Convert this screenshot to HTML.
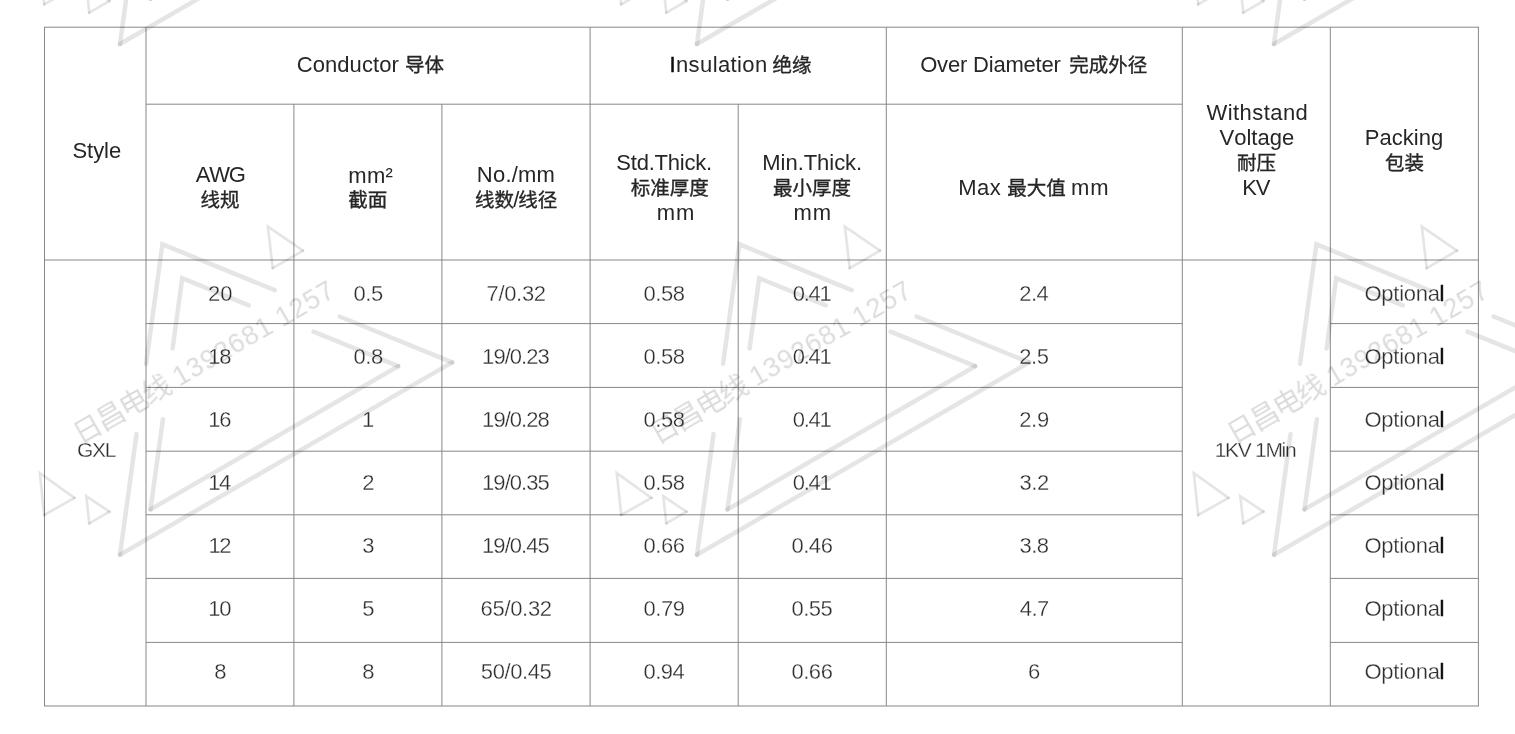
<!DOCTYPE html>
<html lang="en">
<head>
<meta charset="utf-8">
<title>GXL wire specification table</title>
<style>
html,body{margin:0;padding:0;background:#fff}
body{width:1515px;height:734px;position:relative;overflow:hidden;font-family:"Liberation Sans",sans-serif;font-size:22.0px;line-height:25px;font-kerning:none;font-variant-ligatures:none}
svg.grid,svg.wm{position:absolute;left:0;top:0;pointer-events:none}
main{position:absolute;left:0;top:0;width:1515px;height:734px;will-change:transform}
.s{position:absolute;white-space:pre;display:block;height:25px}
.h{color:#262626;fill:#262626}
.b{color:#2e2e2e;fill:#2e2e2e;-webkit-text-stroke:.3px #fff}
.k{color:#0d0d0d;-webkit-text-stroke:.5px #0d0d0d}
.c{font-family:"Liberation Sans","Noto Sans CJK SC",sans-serif;font-size:19.5px;-webkit-text-stroke:.35px #262626}
</style>
</head>
<body>
<svg class="grid" width="1515" height="734" viewBox="0 0 1515 734"><path fill="none" stroke="#85878b" stroke-width="1" d="M44.0 27.2H1478.9M146.0 104.2H1182.3M44.5 260.0H1478.4M146.0 323.6H1182.3M1330.3 323.6H1478.4M146.0 387.4H1182.3M1330.3 387.4H1478.4M146.0 451.2H1182.3M1330.3 451.2H1478.4M146.0 514.8H1182.3M1330.3 514.8H1478.4M146.0 578.4H1182.3M1330.3 578.4H1478.4M146.0 642.4H1182.3M1330.3 642.4H1478.4M44.0 706.0H1478.9M44.5 27.2V706.0M146.0 27.2V706.0M590.1 27.2V706.0M886.3 27.2V706.0M1182.3 27.2V706.0M1330.3 27.2V706.0M1478.4 27.2V706.0M293.9 104.2V706.0M441.9 104.2V706.0M738.2 104.2V706.0"/></svg>
<main>
<div class="cell h"><span class="s" style="left:72.50px;top:137.60px;letter-spacing:-0.06px">Style</span></div>
<div class="cell h"><span class="s" style="left:296.68px;top:52.00px;letter-spacing:0.08px">Conductor</span><span class="s c" style="left:404.95px;top:53.05px">导体</span></div>
<div class="cell h"><span class="s" style="left:669.47px;top:52.00px;letter-spacing:0.39px"><span class="k">I</span>nsulation</span><span class="s c" style="left:772.40px;top:53.05px">绝缘</span></div>
<div class="cell h"><span class="s" style="left:920.16px;top:52.00px;letter-spacing:-0.19px">Over Diameter</span><span class="s c" style="left:1069.35px;top:53.05px">完成外径</span></div>
<div class="cell h"><span class="s" style="left:1206.50px;top:99.70px;letter-spacing:0.44px">Withstand</span><span class="s" style="left:1219.50px;top:124.90px">Voltage</span><span class="s c" style="left:1237.05px;top:150.95px">耐压</span><span class="s" style="left:1242.27px;top:174.80px;letter-spacing:-1.30px">KV</span></div>
<div class="cell h"><span class="s" style="left:1364.70px;top:124.90px;letter-spacing:0.03px">Packing</span><span class="s c" style="left:1385.05px;top:150.95px">包装</span></div>
<div class="cell h"><span class="s" style="left:195.87px;top:162.40px;letter-spacing:-1.30px">AWG</span><span class="s c" style="left:200.55px;top:188.45px">线规</span></div>
<div class="cell h"><span class="s" style="left:348.34px;top:162.50px;letter-spacing:0.25px">mm²</span><span class="s c" style="left:348.15px;top:188.45px">截面</span></div>
<div class="cell h"><span class="s" style="left:476.80px;top:162.30px;letter-spacing:0.23px">No./mm</span><span class="s c" style="left:474.90px;top:188.45px">线数</span><span class="s" style="left:513.24px;top:187.40px">/</span><span class="s c" style="left:518.20px;top:188.45px">线径</span></div>
<div class="cell h"><span class="s" style="left:616.30px;top:150.00px;letter-spacing:-0.21px">Std.Thick.</span><span class="s c" style="left:630.75px;top:176.25px">标准厚度</span><span class="s" style="left:656.72px;top:199.70px;letter-spacing:0.90px">mm</span></div>
<div class="cell h"><span class="s" style="left:762.30px;top:150.00px;letter-spacing:-0.04px">Min.Thick.</span><span class="s c" style="left:773.05px;top:176.25px">最小厚度</span><span class="s" style="left:793.42px;top:199.70px;letter-spacing:0.90px">mm</span></div>
<div class="cell h"><span class="s" style="left:958.20px;top:174.80px;letter-spacing:0.44px">Max</span><span class="s c" style="left:1007.25px;top:175.85px">最大值</span><span class="s" style="left:1071.07px;top:174.80px;letter-spacing:0.90px">mm</span></div>
<div class="cell b"><span class="s" style="left:76.96px;top:437.20px;letter-spacing:-1.30px;font-size:21.0px">GXL</span></div>
<div class="cell b"><span class="s" style="left:1214.71px;top:437.20px;letter-spacing:-1.30px;font-size:21.0px">1KV 1Min</span></div>
<div class="cell b"><span class="s" style="left:207.94px;top:280.80px">20</span></div>
<div class="cell b"><span class="s" style="left:353.54px;top:280.80px;letter-spacing:-0.50px">0.5</span></div>
<div class="cell b"><span class="s" style="left:486.47px;top:280.80px;letter-spacing:-0.31px">7/0.32</span></div>
<div class="cell b"><span class="s" style="left:643.52px;top:280.80px;letter-spacing:-0.45px">0.58</span></div>
<div class="cell b"><span class="s" style="left:792.75px;top:280.80px;letter-spacing:-1.30px">0.41</span></div>
<div class="cell b"><span class="s" style="left:1019.19px;top:280.80px;letter-spacing:-0.52px">2.4</span></div>
<div class="cell b"><span class="s" style="left:1364.56px;top:280.80px;letter-spacing:-0.29px">Optiona<span class="k">l</span></span></div>
<div class="cell b"><span class="s" style="left:208.35px;top:343.80px;letter-spacing:-1.30px">18</span></div>
<div class="cell b"><span class="s" style="left:353.54px;top:343.80px;letter-spacing:-0.48px">0.8</span></div>
<div class="cell b"><span class="s" style="left:482.12px;top:343.80px;letter-spacing:-0.96px">19/0.23</span></div>
<div class="cell b"><span class="s" style="left:643.52px;top:343.80px;letter-spacing:-0.45px">0.58</span></div>
<div class="cell b"><span class="s" style="left:792.75px;top:343.80px;letter-spacing:-1.30px">0.41</span></div>
<div class="cell b"><span class="s" style="left:1019.19px;top:343.80px;letter-spacing:-0.38px">2.5</span></div>
<div class="cell b"><span class="s" style="left:1364.56px;top:343.80px;letter-spacing:-0.29px">Optiona<span class="k">l</span></span></div>
<div class="cell b"><span class="s" style="left:208.36px;top:406.80px;letter-spacing:-1.30px">16</span></div>
<div class="cell b"><span class="s" style="left:361.88px;top:406.80px">1</span></div>
<div class="cell b"><span class="s" style="left:482.12px;top:406.80px;letter-spacing:-0.96px">19/0.28</span></div>
<div class="cell b"><span class="s" style="left:643.52px;top:406.80px;letter-spacing:-0.45px">0.58</span></div>
<div class="cell b"><span class="s" style="left:792.75px;top:406.80px;letter-spacing:-1.30px">0.41</span></div>
<div class="cell b"><span class="s" style="left:1019.19px;top:406.80px;letter-spacing:-0.32px">2.9</span></div>
<div class="cell b"><span class="s" style="left:1364.56px;top:406.80px;letter-spacing:-0.29px">Optiona<span class="k">l</span></span></div>
<div class="cell b"><span class="s" style="left:208.20px;top:469.80px;letter-spacing:-1.30px">14</span></div>
<div class="cell b"><span class="s" style="left:362.18px;top:469.80px">2</span></div>
<div class="cell b"><span class="s" style="left:482.12px;top:469.80px;letter-spacing:-0.97px">19/0.35</span></div>
<div class="cell b"><span class="s" style="left:643.52px;top:469.80px;letter-spacing:-0.45px">0.58</span></div>
<div class="cell b"><span class="s" style="left:792.75px;top:469.80px;letter-spacing:-1.30px">0.41</span></div>
<div class="cell b"><span class="s" style="left:1019.46px;top:469.80px;letter-spacing:-0.42px">3.2</span></div>
<div class="cell b"><span class="s" style="left:1364.56px;top:469.80px;letter-spacing:-0.29px">Optiona<span class="k">l</span></span></div>
<div class="cell b"><span class="s" style="left:208.43px;top:532.80px;letter-spacing:-1.30px">12</span></div>
<div class="cell b"><span class="s" style="left:362.25px;top:532.80px">3</span></div>
<div class="cell b"><span class="s" style="left:482.12px;top:532.80px;letter-spacing:-0.97px">19/0.45</span></div>
<div class="cell b"><span class="s" style="left:643.52px;top:532.80px;letter-spacing:-0.45px">0.66</span></div>
<div class="cell b"><span class="s" style="left:791.42px;top:532.80px;letter-spacing:-0.45px">0.46</span></div>
<div class="cell b"><span class="s" style="left:1019.46px;top:532.80px;letter-spacing:-0.49px">3.8</span></div>
<div class="cell b"><span class="s" style="left:1364.56px;top:532.80px;letter-spacing:-0.29px">Optiona<span class="k">l</span></span></div>
<div class="cell b"><span class="s" style="left:208.31px;top:595.80px;letter-spacing:-1.30px">10</span></div>
<div class="cell b"><span class="s" style="left:362.20px;top:595.80px">5</span></div>
<div class="cell b"><span class="s" style="left:480.56px;top:595.80px;letter-spacing:-0.32px">65/0.32</span></div>
<div class="cell b"><span class="s" style="left:643.52px;top:595.80px;letter-spacing:-0.42px">0.79</span></div>
<div class="cell b"><span class="s" style="left:791.42px;top:595.80px;letter-spacing:-0.46px">0.55</span></div>
<div class="cell b"><span class="s" style="left:1019.80px;top:595.80px;letter-spacing:-0.59px">4.7</span></div>
<div class="cell b"><span class="s" style="left:1364.56px;top:595.80px;letter-spacing:-0.29px">Optiona<span class="k">l</span></span></div>
<div class="cell b"><span class="s" style="left:214.18px;top:658.80px">8</span></div>
<div class="cell b"><span class="s" style="left:362.18px;top:658.80px">8</span></div>
<div class="cell b"><span class="s" style="left:480.79px;top:658.80px;letter-spacing:-0.39px">50/0.45</span></div>
<div class="cell b"><span class="s" style="left:643.52px;top:658.80px;letter-spacing:-0.55px">0.94</span></div>
<div class="cell b"><span class="s" style="left:791.42px;top:658.80px;letter-spacing:-0.45px">0.66</span></div>
<div class="cell b"><span class="s" style="left:1028.01px;top:658.80px">6</span></div>
<div class="cell b"><span class="s" style="left:1364.56px;top:658.80px;letter-spacing:-0.29px">Optiona<span class="k">l</span></span></div>
</main>
<svg class="wm" width="1515" height="734" viewBox="0 0 1515 734" aria-hidden="true"><defs><g id="wm"><g fill="none" stroke="#000" stroke-opacity=".1" stroke-linejoin="miter" stroke-miterlimit="10" stroke-linecap="round"><g stroke-width="4.5"><path d="M120.0 554.7L136.5 434.1"/><path d="M146.1 363.7L162.4 244.3L274.7 290.1"/><path d="M339.6 316.5L452.2 362.4"/><path d="M452.2 362.4L120.0 554.7"/><path d="M150.5 509.4L162.9 419.2"/><path d="M172.6 348.5L182.2 278.2L248.8 305.3"/><path d="M313.5 331.7L398.2 366.2"/><path d="M398.2 366.2L150.5 509.4"/></g><g stroke-width="2.7"><path d="M272.7 268.2L267.9 226.6L303.0 250.7"/><path d="M303.0 250.7L272.7 268.2"/><path d="M44.2 515.0L39.8 473.1L74.5 497.8"/><path d="M74.5 497.8L44.2 515.0"/><path d="M89.3 523.4L86.3 496.2L109.5 511.7"/><path d="M109.5 511.7L89.3 523.4"/></g></g><g fill="#000" fill-opacity=".1"></g><g transform="translate(80.6 443.8) rotate(-30)" fill="#000" fill-opacity=".14" font-family='"Liberation Sans","Noto Sans CJK SC",sans-serif'><text x="-0.75 25.75 52.25 78.75" y="0.57" font-size="28.5" font-family='"Noto Sans CJK SC","Liberation Sans",sans-serif'>日昌电线</text><text x="113.96 129.86 145.76 161.66 177.56 193.46 209.36" y="0" font-size="27">1392681</text><text x="232.76 248.66 264.56 280.46" y="0" font-size="27">1257</text></g></g></defs><use href="#wm" x="0.0" y="-510.7"/><use href="#wm" x="577.0" y="-510.7"/><use href="#wm" x="1154.0" y="-510.7"/><use href="#wm" x="0.0" y="0.0"/><use href="#wm" x="577.0" y="0.0"/><use href="#wm" x="1154.0" y="0.0"/></svg>
</body>
</html>
